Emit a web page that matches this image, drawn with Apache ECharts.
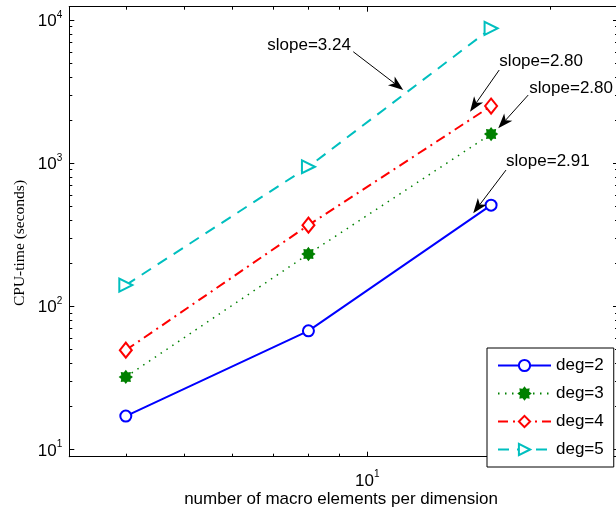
<!DOCTYPE html>
<html><head><meta charset="utf-8">
<script src="https://cdn.jsdelivr.net/npm/echarts@6/dist/echarts.min.js"></script>
<style>html,body{margin:0;padding:0;background:#fff;overflow:hidden}#c{width:616px;height:508px}</style>
</head><body><div id="c"></div>
<script>
// ---- data ----
const xValues = [4, 8, 16];
const deg2 = [17.1, 67.4, 509];
const deg3 = [32.1, 232, 1597];
const deg4 = [49.4, 369, 2506];
const deg5 = [140.7, 944, 8749];
const seriesNames = ['deg=2', 'deg=3', 'deg=4', 'deg=5'];
const xMajorTicks = [10];
const xMinorTicks = [4, 5, 6, 7, 8, 9, 20];
const yMajorTicks = [10, 100, 1000, 10000];
const yMinorTicks = [20, 30, 40, 50, 60, 70, 80, 90, 200, 300, 400, 500, 600, 700, 800, 900,
                     2000, 3000, 4000, 5000, 6000, 7000, 8000, 9000];
const xTitle = 'number of macro elements per dimension';
const yTitle = 'CPU-time (seconds)';
const annotationTexts = ['slope=3.24', 'slope=2.80', 'slope=2.80', 'slope=2.91'];
// annotation anchors in data coordinates: text centre, arrow tail, arrow tip
const annotationText = [[8.02, 6688], [19.35, 5112], [21.68, 3332], [19.85, 1023]];
const annotationFrom = [[9.483, 6004], [16.50, 4473], [18.42, 2991], [16.93, 895]];
const annotationTo = [[11.464, 3242], [14.77, 2287], [16.44, 1751], [14.95, 446]];

// ---- layout / style ----
const FONT = "'Liberation Sans', Arial, Helvetica, sans-serif";
const SERIF = "'Liberation Serif', 'Times New Roman', serif";
const X_MIN = 3.228, X_MAX = 25.9, Y_MIN = 8.9, Y_MAX = 12390;
const gridPos = { left: 69.3, top: 6.7, right: -2, bottom: 51.3 };

function zip(xs, ys) { return xs.map((x, i) => [x, ys[i]]); }

function starPath(n, rOut, rIn) {
  let d = '';
  for (let i = 0; i < 2 * n; i++) {
    const r = i % 2 === 0 ? rOut : rIn;
    const a = Math.PI * i / n - Math.PI / 2;
    const px = (10 + r * Math.cos(a)).toFixed(3), py = (10 + r * Math.sin(a)).toFixed(3);
    d += (i === 0 ? 'M' : 'L') + px + ' ' + py + ' ';
  }
  return 'path://' + d + 'Z';
}

const supRich = {
  b: { fontSize: 17, fontFamily: FONT, color: '#000', lineHeight: 20, verticalAlign: 'bottom' },
  s: { fontSize: 10, fontFamily: FONT, color: '#000', lineHeight: 20, verticalAlign: 'top' }
};
function supLabel(v) { return '{b|10}{s|' + Math.round(Math.log10(v)) + '}'; }

const lineBlack = { show: true, onZero: false, lineStyle: { color: '#000', width: 1 } };

function xAxisDef(grid, pos, ticks, len, labels) {
  return {
    type: 'log', gridIndex: grid, position: pos, min: X_MIN, max: X_MAX, logBase: 10,
    axisLine: lineBlack,
    axisTick: { show: true, inside: true, length: len, customValues: ticks, lineStyle: { color: '#000', width: 1 } },
    axisLabel: labels ? { show: true, customValues: ticks, formatter: supLabel, rich: supRich, margin: 13 } : { show: false },
    splitLine: { show: false }, minorTick: { show: false }
  };
}
function yAxisDef(grid, pos, ticks, len, labels) {
  return {
    type: 'log', gridIndex: grid, position: pos, min: Y_MIN, max: Y_MAX, logBase: 10,
    axisLine: lineBlack,
    axisTick: { show: true, inside: true, length: len, customValues: ticks, lineStyle: { color: '#000', width: 1 } },
    axisLabel: labels ? { show: true, customValues: ticks, formatter: supLabel, rich: supRich, margin: 7 } : { show: false },
    splitLine: { show: false }, minorTick: { show: false }
  };
}

const xAxes = [
  xAxisDef(0, 'bottom', xMajorTicks, 5, true),
  xAxisDef(0, 'top', xMajorTicks, 5, false),
  xAxisDef(1, 'bottom', xMinorTicks, 3, false),
  xAxisDef(1, 'top', xMinorTicks, 3, false)
];

const yAxes = [
  yAxisDef(0, 'left', yMajorTicks, 5, true),
  yAxisDef(0, 'right', yMajorTicks, 5, false),
  yAxisDef(1, 'left', yMinorTicks, 3, false),
  yAxisDef(1, 'right', yMinorTicks, 3, false)
];

const colors = ['#0000ff', '#008000', '#ff0000', '#00bfbf'];
const allData = [deg2, deg3, deg4, deg5];
const symbols = ['emptyCircle', starPath(8, 10, 7), 'emptyDiamond', 'emptyTriangle'];
const symbolSizes = [11, 11, [12, 15], 13];
const symbolRotates = [0, 0, 0, -90];
const dashes = ['solid', [1.5, 5.5], [10, 5, 2, 5], [11, 8]];
const widths = [2, 1.5, 2, 2];

const series = allData.map((d, i) => ({
  name: seriesNames[i], type: 'line', xAxisIndex: 0, yAxisIndex: 0,
  data: zip(xValues, d),
  symbol: symbols[i], symbolSize: symbolSizes[i], symbolRotate: symbolRotates[i],
  showAllSymbol: true,
  lineStyle: { color: colors[i], width: widths[i], type: dashes[i] },
  itemStyle: { color: colors[i], borderColor: colors[i], borderWidth: 2 },
  emphasis: { disabled: true },
  z: 3 + i
}));

const chart = echarts.init(document.getElementById('c'), null, { renderer: 'canvas' });
chart.setOption({
  animation: false,
  backgroundColor: '#fff',
  grid: [
    Object.assign({ containLabel: false, outerBoundsMode: 'none' }, gridPos),
    Object.assign({ containLabel: false, outerBoundsMode: 'none' }, gridPos)
  ],
  xAxis: xAxes,
  yAxis: yAxes,
  legend: {
    orient: 'vertical', left: 487, top: 348,
    itemWidth: 53, itemHeight: 14, itemGap: 11,
    padding: [9, 10, 9, 10],
    borderColor: '#000', borderWidth: 1, backgroundColor: '#fff',
    selectedMode: false,
    textStyle: { fontSize: 17, fontFamily: FONT, color: '#000' },
    data: seriesNames
  },
  series: series
});

// titles and annotations
const g = [];
g.push({
  type: 'text', x: 20, y: 243, rotation: Math.PI / 2,
  style: { text: yTitle, font: '15.5px ' + SERIF, fill: '#000', align: 'center', verticalAlign: 'middle' }, z: 50
});
g.push({
  type: 'text', x: 341, y: 499,
  style: { text: xTitle, font: '17px ' + FONT, fill: '#000', align: 'center', verticalAlign: 'middle' }, z: 50
});
const toPx = p => chart.convertToPixel({ xAxisIndex: 0, yAxisIndex: 0 }, p);
annotationTexts.forEach((t, i) => {
  const c = toPx(annotationText[i]);
  const a = toPx(annotationFrom[i]);
  const b = toPx(annotationTo[i]);
  const dx = b[0] - a[0], dy = b[1] - a[1];
  const L = Math.hypot(dx, dy), ux = dx / L, uy = dy / L, nx = -uy, ny = ux;
  const HL = 15, HW = 5.5, NOTCH = 4;
  const back = [b[0] - HL * ux, b[1] - HL * uy];
  const mid = [b[0] - (HL - NOTCH) * ux, b[1] - (HL - NOTCH) * uy];
  g.push({ type: 'line', shape: { x1: a[0], y1: a[1], x2: mid[0], y2: mid[1] },
           style: { stroke: '#000', lineWidth: 1 }, z: 50 });
  g.push({ type: 'polygon', shape: { points: [b, [back[0] + HW * nx, back[1] + HW * ny], mid, [back[0] - HW * nx, back[1] - HW * ny]] },
           style: { fill: '#000' }, z: 50 });
  g.push({ type: 'text', x: c[0], y: c[1],
           style: { text: t, font: '17px ' + FONT, fill: '#000', align: 'center', verticalAlign: 'middle' }, z: 50 });
});
chart.setOption({ graphic: g });
</script>
</body></html>
